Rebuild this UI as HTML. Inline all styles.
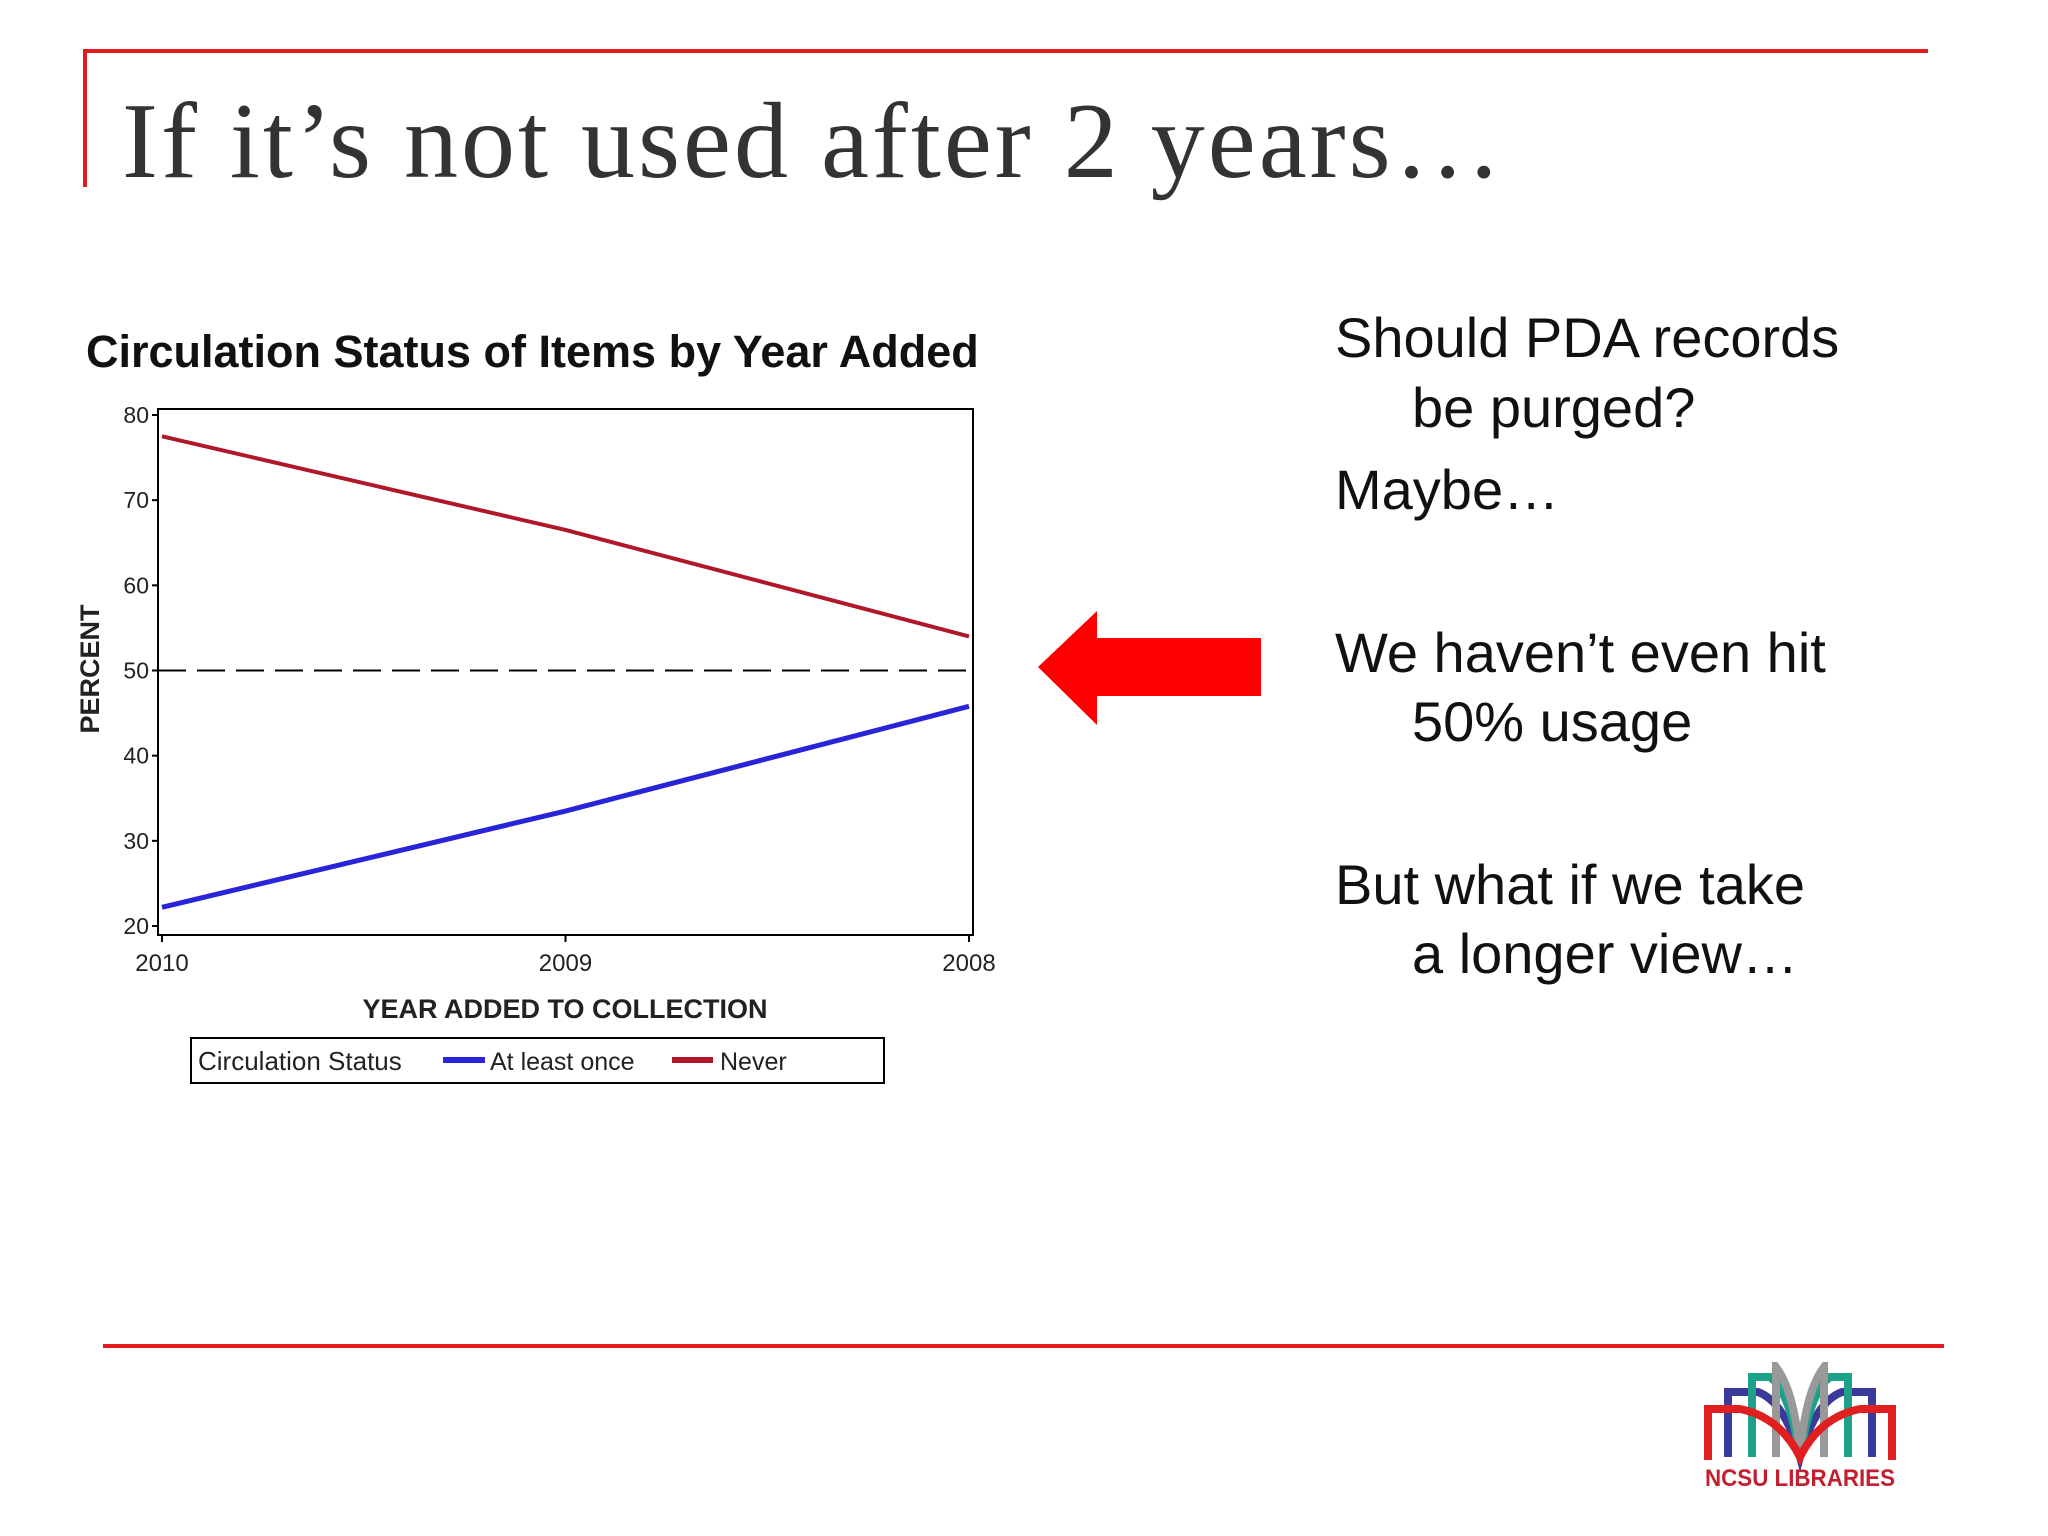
<!DOCTYPE html>
<html><head><meta charset="utf-8"><style>
body{margin:0;width:2048px;height:1536px;background:#fff;position:relative;overflow:hidden;font-family:"Liberation Sans",sans-serif}
.a{position:absolute;white-space:nowrap}
.rt{font-size:56px;color:#111}
</style></head><body>
<div class="a" style="left:84px;top:49px;width:1844px;height:4px;background:#e31c1c"></div>
<div class="a" style="left:83px;top:49px;width:4px;height:138px;background:#e31c1c"></div>
<div class="a" style="left:122px;top:80px;font-family:'Liberation Serif',serif;font-size:108px;letter-spacing:3px;color:#333">If it’s not used after 2 years…</div>
<div class="a" style="left:86px;top:326px;font-size:45px;font-weight:bold;color:#111">Circulation Status of Items by Year Added</div>
<svg class="a" style="left:0;top:0" width="2048" height="1536" id="chart"></svg>
<div class="a rt" style="left:1335px;top:305px">Should PDA records</div>
<div class="a rt" style="left:1412px;top:375px">be purged?</div>
<div class="a rt" style="left:1335px;top:457px">Maybe…</div>
<div class="a rt" style="left:1335px;top:620px">We haven’t even hit</div>
<div class="a rt" style="left:1412px;top:689px">50% usage</div>
<div class="a rt" style="left:1335px;top:852px">But what if we take</div>
<div class="a rt" style="left:1412px;top:921px">a longer view…</div>
<svg class="a" style="left:1035px;top:608px" width="230" height="120"><polygon points="3,59 62,3 62,30 226,30 226,88 62,88 62,117" fill="#f00"/></svg>
<div class="a" style="left:103px;top:1344px;width:1841px;height:4px;background:#e31c1c"></div>
<svg class="a" style="left:1700px;top:1362px" width="200" height="130">
<g fill="none" stroke-width="8">
<path d="M28,95 L28,30 L58,30 Q85,40 100,95 Q115,40 142,30 L172,30 L172,95" stroke="#3a3a9a"/>
<path d="M52,95 L52,15 L70,15 Q90,30 100,95 Q110,30 130,15 L148,15 L148,95" stroke="#1fa08a"/>
<path d="M76,95 L76,5 Q95,30 100,95 Q105,30 124,5 L124,95" stroke="#999"/>
<path d="M8,98 L8,47 L40,47 Q80,55 100,95 Q120,55 160,47 L192,47 L192,98" stroke="#e02020"/>
</g>
<text x="100" y="124" text-anchor="middle" font-family="Liberation Sans" font-weight="bold" font-size="24" fill="#c02030" textLength="190" lengthAdjust="spacingAndGlyphs">NCSU LIBRARIES</text>
</svg>
<script>
const years=['2010','2009','2008'];
const atLeastOnce=[22.2,33.5,45.8];
const never=[77.5,66.5,54];
const yTicks=[20,30,40,50,60,70,80];
const NS='http://www.w3.org/2000/svg';
const svg=document.getElementById('chart');
const L=158,R=973,T=409,B=935;
const X0=162,X1=969;
const x=i=>X0+(X1-X0)*i/(years.length-1);
const y=v=>926-(v-20)*(926-415)/60;
function mk(t,a){const e=document.createElementNS(NS,t);for(const k in a)e.setAttribute(k,a[k]);svg.appendChild(e);return e;}
let e=mk('rect',{x:L,y:T,width:R-L,height:B-T,fill:'none',stroke:'#000','stroke-width':2});

yTicks.forEach(v=>{
 let t=mk('line',{x1:L-6,x2:L,y1:y(v),y2:y(v),stroke:'#000','stroke-width':2});
 
 let l=mk('text',{x:L-9,y:y(v)+8,'text-anchor':'end','font-size':23,'font-family':'Liberation Sans',fill:'#222'});l.textContent=v;
 
});
years.forEach((yr,i)=>{
 let t=mk('line',{x1:x(i),x2:x(i),y1:B,y2:B+7,stroke:'#000','stroke-width':2});
 
 let l=mk('text',{x:x(i),y:B+36,'text-anchor':'middle','font-size':24,'font-family':'Liberation Sans',fill:'#222'});l.textContent=yr;
 
});
e=mk('line',{x1:L,x2:R,y1:y(50),y2:y(50),stroke:'#000','stroke-width':2,'stroke-dasharray':'28,11'});

function line(d,c,n,w){let p=mk('polyline',{points:d.map((v,i)=>x(i)+','+y(v)).join(' '),fill:'none',stroke:c,'stroke-width':w});
 }
line(never,'#b0182a','never-line',4);
line(atLeastOnce,'#2a24d8','at-least-once-line',5);
e=mk('text',{x:565,y:1018,'text-anchor':'middle','font-size':27,'font-weight':'bold','font-family':'Liberation Sans',fill:'#222'});e.textContent='YEAR ADDED TO COLLECTION';

e=mk('text',{x:0,y:0,transform:'translate(99,669) rotate(-90)','text-anchor':'middle','font-size':27,'font-weight':'bold','font-family':'Liberation Sans',fill:'#222'});e.textContent='PERCENT';

e=mk('rect',{x:191,y:1038,width:693,height:45,fill:'none',stroke:'#000','stroke-width':2});

e=mk('text',{x:198,y:1070,'font-size':26,'font-family':'Liberation Sans',fill:'#222'});e.textContent='Circulation Status';

e=mk('line',{x1:443,x2:485,y1:1060,y2:1060,stroke:'#2a24d8','stroke-width':6});

e=mk('text',{x:490,y:1070,'font-size':25,'font-family':'Liberation Sans',fill:'#222'});e.textContent='At least once';

e=mk('line',{x1:672,x2:713,y1:1060,y2:1060,stroke:'#b0182a','stroke-width':6});

e=mk('text',{x:720,y:1070,'font-size':25,'font-family':'Liberation Sans',fill:'#222'});e.textContent='Never';

</script>
</body></html>
